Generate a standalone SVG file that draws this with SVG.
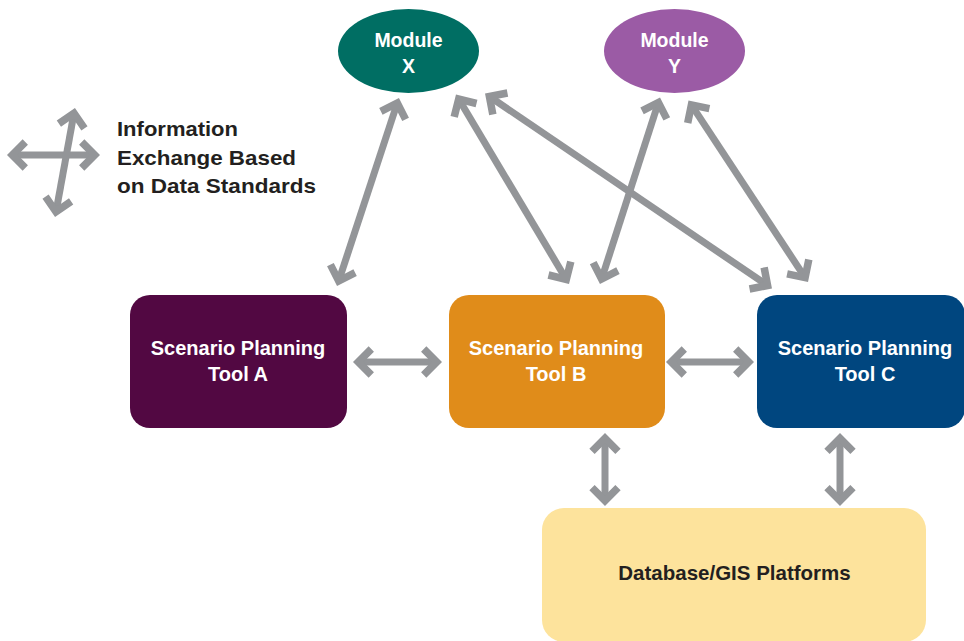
<svg xmlns="http://www.w3.org/2000/svg" width="964" height="641" viewBox="0 0 964 641">
  <defs>
    <marker id="chev" markerUnits="userSpaceOnUse" markerWidth="40" markerHeight="40" refX="0" refY="0" orient="auto-start-reverse" overflow="visible">
      <path d="M -13,-13 L 0,0 L -13,13" fill="none" stroke="#939598" stroke-width="7.5" stroke-linejoin="miter" stroke-miterlimit="10"/>
    </marker>
    <style>
      .conn { stroke: #939598; stroke-width: 7; fill: none; marker-start: url(#chev); marker-end: url(#chev); }
      .lbl { font-family: "Liberation Sans", Arial, sans-serif; font-weight: bold; fill: #ffffff; text-anchor: middle; }
      .dark { fill: #231f20; }
      .legend { font-family: "Liberation Sans", Arial, sans-serif; font-weight: bold; font-size: 21px; fill: #231f20; }
    </style>
  </defs>
  <rect width="964" height="641" fill="#ffffff"/>

  <g id="legend">
    <path class="conn" d="M 12.3,155 L 94.7,155"/>
    <path class="conn" d="M 74,113.2 L 56,211.8"/>
    <text class="legend" x="117" y="136" textLength="121" lengthAdjust="spacingAndGlyphs">Information</text>
    <text class="legend" x="117" y="165" textLength="179" lengthAdjust="spacingAndGlyphs">Exchange Based</text>
    <text class="legend" x="117" y="193" textLength="199" lengthAdjust="spacingAndGlyphs">on Data Standards</text>
  </g>

  <g id="connectors">
    <path class="conn" d="M 358.3,362 L 436.7,362"/>
    <path class="conn" d="M 671.3,362 L 748.7,362"/>
    <path class="conn" d="M 605,438.3 L 605,500.7"/>
    <path class="conn" d="M 840,438.3 L 840,500.7"/>
    <path class="conn" d="M 338.7,281 L 397.3,103"/>
    <path class="conn" d="M 458.7,99 L 566.3,279.5"/>
    <path class="conn" d="M 489.4,96.5 L 767.6,285.5"/>
    <path class="conn" d="M 658.4,102.5 L 601.6,279"/>
    <path class="conn" d="M 691.4,104.9 L 805.1,277.6"/>
  </g>

  <g id="module-x">
    <ellipse cx="408.5" cy="51" rx="70.5" ry="42" fill="#006e63"/>
    <text class="lbl" x="408.5" y="47" font-size="19.5">Module</text>
    <text class="lbl" x="408.5" y="73" font-size="19.5">X</text>
  </g>

  <g id="module-y">
    <ellipse cx="674.5" cy="51" rx="70.5" ry="42" fill="#9b5ba5"/>
    <text class="lbl" x="674.5" y="47" font-size="19.5">Module</text>
    <text class="lbl" x="674.5" y="73" font-size="19.5">Y</text>
  </g>

  <g id="tool-a">
    <rect x="130" y="295" width="217" height="133" rx="20" fill="#520842"/>
    <text class="lbl" x="238" y="355" font-size="20">Scenario Planning</text>
    <text class="lbl" x="238" y="381" font-size="20">Tool A</text>
  </g>

  <g id="tool-b">
    <rect x="449" y="295" width="216" height="133" rx="20" fill="#e08c1a"/>
    <text class="lbl" x="556" y="355" font-size="20">Scenario Planning</text>
    <text class="lbl" x="556" y="381" font-size="20">Tool B</text>
  </g>

  <g id="tool-c">
    <rect x="757" y="295" width="208" height="133" rx="20" fill="#00467f"/>
    <text class="lbl" x="865" y="355" font-size="20">Scenario Planning</text>
    <text class="lbl" x="865" y="381" font-size="20">Tool C</text>
  </g>

  <g id="database">
    <rect x="542" y="508" width="384" height="134" rx="22" fill="#fde39c"/>
    <text class="lbl dark" x="734.5" y="580" font-size="20.5">Database/GIS Platforms</text>
  </g>
</svg>
